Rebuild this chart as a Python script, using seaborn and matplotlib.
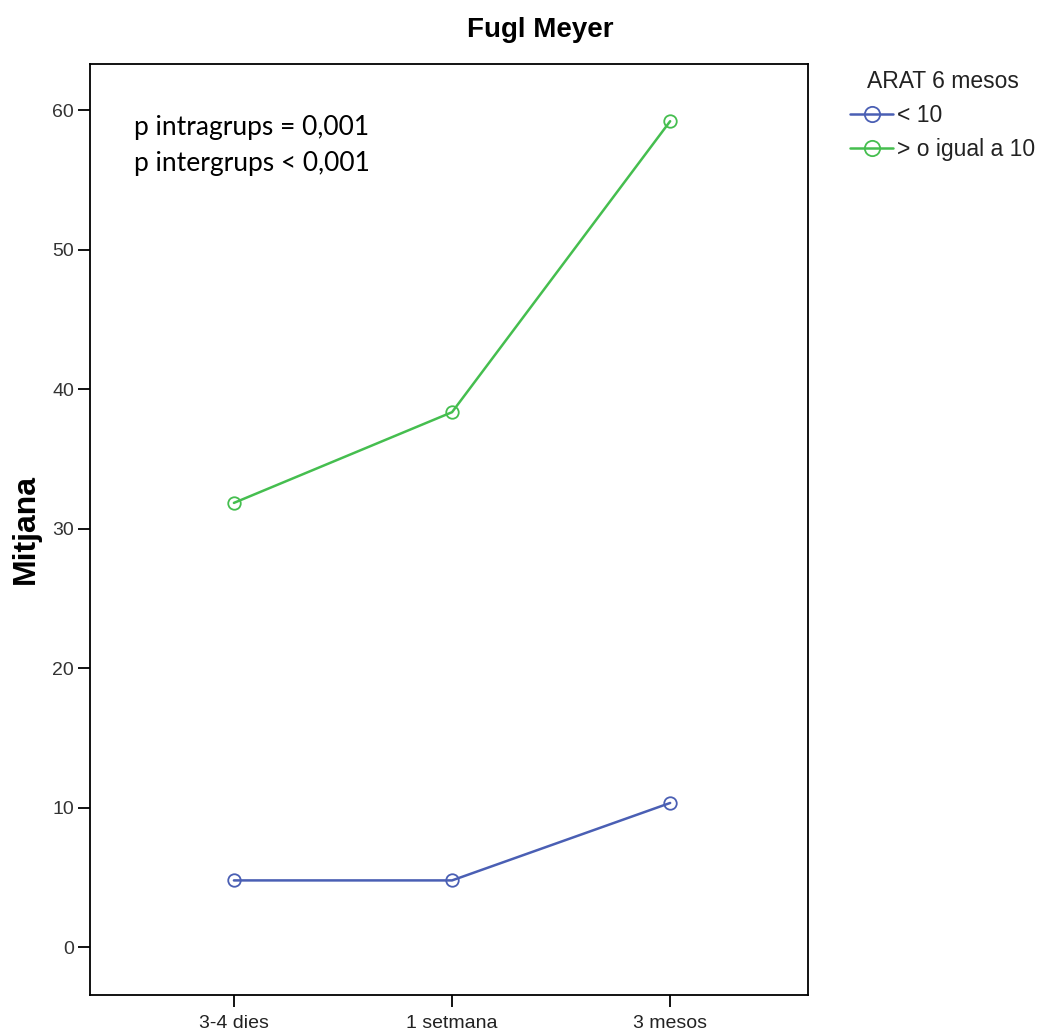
import matplotlib
matplotlib.use("Agg")
import matplotlib.pyplot as plt
import seaborn as sns
import pandas as pd

# Mean Fugl Meyer score over time, split by ARAT at 6 months
timepoints = ["3-4 dies", "1 setmana", "3 mesos"]
group_labels = ["< 10", "> o igual a 10"]
mean_low = [4.8, 4.8, 10.35]
mean_high = [31.85, 38.35, 59.2]
y_ticks = [0, 10, 20, 30, 40, 50, 60]
stats_lines = ["p intragrups = 0,001", "p intergrups < 0,001"]

df = pd.DataFrame({
    "temps": list(range(len(timepoints))) * 2,
    "Mitjana": mean_low + mean_high,
    "ARAT 6 mesos": [group_labels[0]] * 3 + [group_labels[1]] * 3,
})

sns.set_theme(style="white")
plt.rcParams["font.family"] = ["Liberation Sans", "DejaVu Sans"]

palette = {group_labels[0]: "#4A5FB4", group_labels[1]: "#45BE4F"}

fig = plt.figure(figsize=(10.4, 10.32), dpi=100)
ax = fig.add_axes([0.0865, 0.036, 0.690, 0.902])

sns.lineplot(data=df, x="temps", y="Mitjana", hue="ARAT 6 mesos",
             palette=palette, marker="o", markersize=9, markerfacecolor="none",
             markeredgewidth=1.3, linewidth=1.8, ax=ax, legend=True)
for line in ax.lines:
    line.set_markeredgecolor(line.get_color())
    line.set_markerfacecolor("none")

ax.set_xlim(-0.66, 2.63)
ax.set_ylim(-3.4, 63.3)
ax.set_xticks(range(len(timepoints)))
ax.set_xticklabels(timepoints, fontsize=14, color="#222222")
ax.set_yticks(y_ticks)
ax.set_yticklabels([str(t) for t in y_ticks], fontsize=14, color="#333333")
ax.tick_params(axis="both", length=8.5, width=1.3, color="black", direction="out",
               bottom=True, left=True, pad=3)
ax.tick_params(axis="x", pad=6)
for s in ax.spines.values():
    s.set_color("black")
    s.set_linewidth(1.3)

ax.set_xlabel("")
ax.set_ylabel("Mitjana", fontsize=23, fontweight="bold", labelpad=8, color="black")
fig.text(540 / 1040, 1 - 30 / 1032, "Fugl Meyer", fontsize=20, fontweight="bold",
         ha="center", va="center", color="black")

for i, s in enumerate(stats_lines):
    fig.text(134 / 1040, 1 - (127 + 36 * i) / 1032, s, fontsize=19, ha="left",
             va="center", family=["Lato", "DejaVu Sans"], color="black")

leg = ax.legend(title="ARAT 6 mesos", loc="upper left",
                bbox_to_anchor=(850 / 1040, 1 - 70 / 1032), bbox_transform=fig.transFigure,
                frameon=False, fontsize=16.5, title_fontsize=16.5, handlelength=1.88,
                handletextpad=0.18, labelspacing=0.48, borderaxespad=0, borderpad=0)
for t in leg.get_texts():
    t.set_color("#222222")
leg.get_title().set_color("#222222")
for h in leg.legend_handles:
    h.set_markerfacecolor("none")
    h.set_markersize(11)

fig.savefig("out.png", dpi=100)
